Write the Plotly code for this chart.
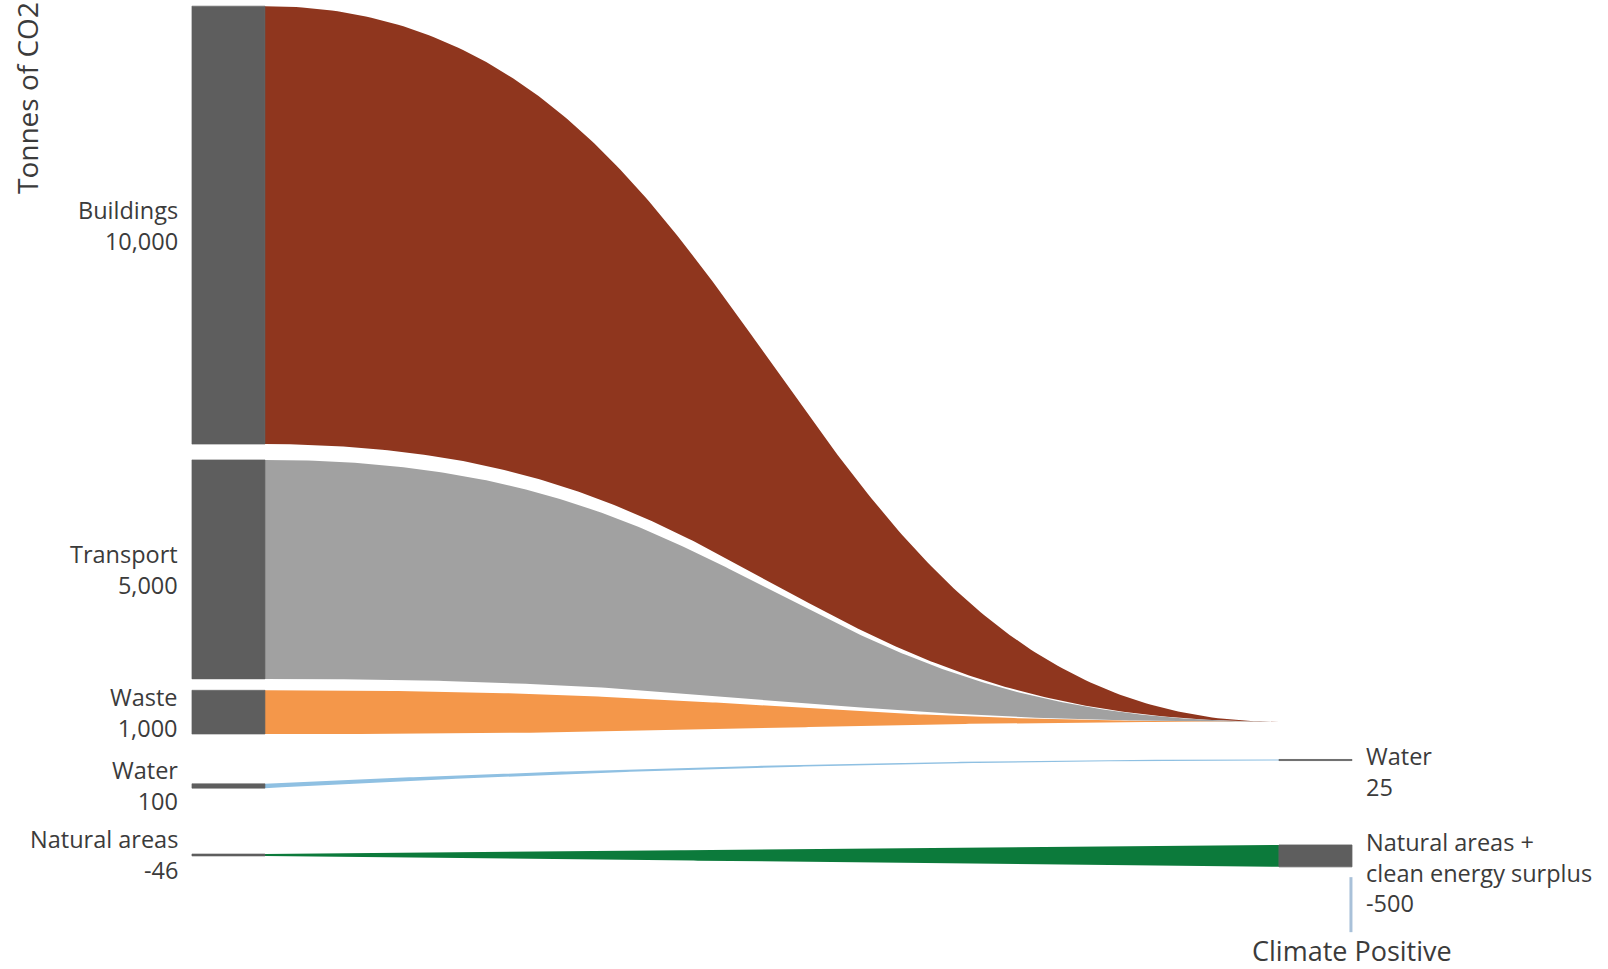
import numpy as np
import plotly.graph_objects as go

# ---- data: tonnes of CO2 ----
sources = ["Buildings", "Transport", "Waste", "Water", "Natural areas"]
source_values = [10000, 5000, 1000, 100, -46]
source_value_text = ["10,000", "5,000", "1,000", "100", "-46"]

targets = ["Remaining", "Water", "Natural areas +<br>clean energy surplus"]
target_values = [0, 25, -500]
target_value_text = ["", "25", "-500"]

# each source flows into one target
link_source = [0, 1, 2, 3, 4]
link_target = [0, 0, 0, 1, 2]

# ---- styles ----
link_colors = ["#8f361e", "#a1a1a1", "#f4974a", "#8fc0e2", "#0c7a3b"]
link_shapes = ["bezier", "bezier", "bezier", "easeout", "linear"]

# ---- layout constants (tonnes on the vertical axis) ----
FIG_W, FIG_H = 1608, 969
SPAN_T = 22124            # tonnes covered by the full figure height
TOP_PAD = 140
LEFT_GAPS = [360, 260, 1135, 1503]
RIGHT_START = 16480
RIGHT_GAPS = [860, 1927]
NODE_W = 0.072            # node width in stage units (flow runs 0 -> 1)
X_RANGE = [-0.2613, 1.3245]
NODE_COLOR = "#5e5e5e"
TEXT_COLOR = "#3b3b3b"
FONT = "Open Sans"
LABEL_SIZE = 23.5


def stack(values, start, gaps):
    spans, y = [], start
    for i, v in enumerate(values):
        h = abs(v)
        spans.append((y, y + h))
        y += h
        if i < len(gaps):
            y += gaps[i]
    return spans


left_spans = stack(source_values, TOP_PAD, LEFT_GAPS)
right_spans = stack(target_values, RIGHT_START, RIGHT_GAPS)

fig = go.Figure()


def add_poly(xs, ys, color, outline=0):
    fig.add_trace(go.Scatter(
        x=xs, y=ys, mode="lines", fill="toself", fillcolor=color,
        line=dict(width=outline, color=color), hoverinfo="skip",
        showlegend=False))


t = np.linspace(0, 1, 240)
# horizontal position and vertical blend for each path style
PATHS = {
    "bezier": (1.5 * t * (1 - t) + t ** 3, 3 * t ** 2 - 2 * t ** 3),
    "linear": (t, t),
    "easeout": (t, 1 - (1 - t) ** 2),
}

# ---- links ----
# the right end of each target is shared by its incoming links in order
target_cursor = {i: right_spans[i][0] for i in range(len(targets))}
for s, g, col, shape in zip(link_source, link_target, link_colors, link_shapes):
    s0, s1 = left_spans[s]
    tw = abs(target_values[g])
    t0 = target_cursor[g]
    t1 = t0 + tw
    target_cursor[g] = t1
    xs, f = PATHS[shape]
    top = s0 + (t0 - s0) * f
    bot = s1 + (t1 - s1) * f
    add_poly(np.concatenate([xs, xs[::-1]]),
             np.concatenate([top, bot[::-1]]), col)

# ---- nodes ----
for (y0, y1) in left_spans:
    add_poly([-NODE_W, 0, 0, -NODE_W, -NODE_W], [y0, y0, y1, y1, y0],
             NODE_COLOR, outline=0.6)
for i, (y0, y1) in enumerate(right_spans):
    if target_values[i] == 0:
        continue
    add_poly([1, 1 + NODE_W, 1 + NODE_W, 1, 1], [y0, y0, y1, y1, y0],
             NODE_COLOR, outline=0.8)

annotations = []
# left labels
for name, txt, (y0, y1) in zip(sources, source_value_text, left_spans):
    annotations.append(dict(
        x=-NODE_W, y=(y0 + y1) / 2, xref="x", yref="y", xanchor="right",
        yanchor="middle", xshift=-12, text=f"{name}<br>{txt}", align="right",
        showarrow=False, font=dict(family=FONT, size=LABEL_SIZE,
                                   color=TEXT_COLOR)))
# right labels
for i, (name, txt) in enumerate(zip(targets, target_value_text)):
    if target_values[i] == 0:
        continue
    y0 = right_spans[i][0]
    annotations.append(dict(
        x=1 + NODE_W, y=y0, xref="x", yref="y", xanchor="left",
        yanchor="top", xshift=12, yshift=21, text=f"{name}<br>{txt}",
        align="left", showarrow=False,
        font=dict(family=FONT, size=LABEL_SIZE, color=TEXT_COLOR)))

# climate positive marker below the surplus node
surplus_bottom = right_spans[2][1]
cp_top = surplus_bottom + 235
cp_bottom = cp_top + 1256
fig.add_trace(go.Scatter(
    x=[1 + NODE_W - 0.001, 1 + NODE_W - 0.001], y=[cp_top, cp_bottom],
    mode="lines", line=dict(color="#a9c1d9", width=3), hoverinfo="skip",
    showlegend=False))
annotations.append(dict(
    x=1 + NODE_W, y=cp_bottom, xref="x", yref="y", xanchor="center",
    yanchor="top", yshift=2, text="Climate Positive", showarrow=False,
    font=dict(family=FONT, size=27, color=TEXT_COLOR)))

# vertical axis caption
annotations.append(dict(
    x=27 / FIG_W, y=1 - 98 / FIG_H, xref="paper", yref="paper",
    xanchor="center", yanchor="middle", textangle=-90,
    text="Tonnes of CO2", showarrow=False,
    font=dict(family=FONT, size=28, color=TEXT_COLOR)))

fig.update_layout(
    width=FIG_W, height=FIG_H,
    margin=dict(l=0, r=0, t=0, b=0),
    paper_bgcolor="white", plot_bgcolor="white",
    xaxis=dict(range=X_RANGE, visible=False, fixedrange=True),
    yaxis=dict(range=[SPAN_T, 0], visible=False, fixedrange=True),
    annotations=annotations,
    showlegend=False,
)

fig.write_html("out.html")
